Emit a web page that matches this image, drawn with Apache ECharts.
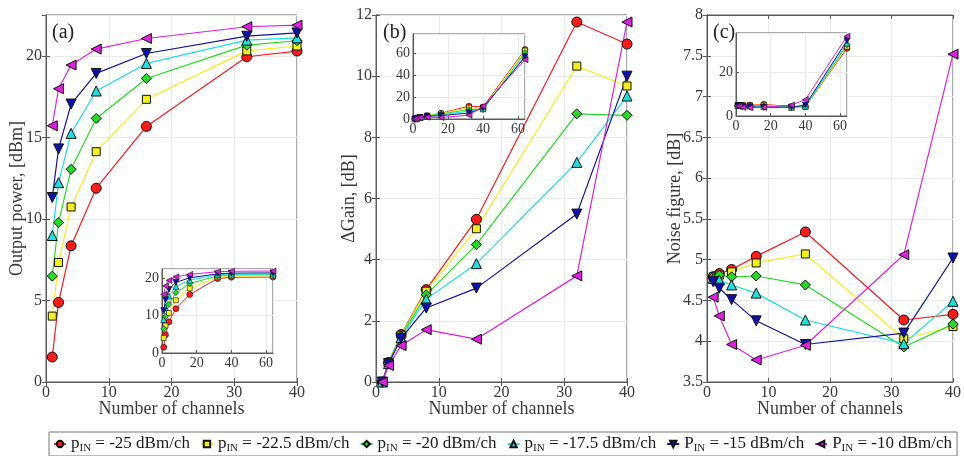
<!DOCTYPE html>
<html>
<head>
<meta charset="utf-8">
<script src="https://cdn.jsdelivr.net/npm/echarts@6/dist/echarts.min.js"></script>
<style>
  html, body { margin: 0; padding: 0; background: #fff; }
  #chart { width: 964px; height: 456px; }
</style>
</head>
<body>
<div id="chart"></div>
<script>
// channels (the last one, 64, only shows in the insets)
const channels = [1, 2, 4, 8, 16, 32, 40, 64];
const inputPower = ['-25', '-22.5', '-20', '-17.5', '-15', '-10'];
const legendPrefix = ['p', 'p', 'p', 'p', 'P', 'P'];

// (a) output power [dBm], one row per input power
const outputPower = [
  [1.53, 4.88, 8.35, 11.88, 15.67, 19.94, 20.29, 20.35],
  [4.04, 7.33, 10.73, 14.12, 17.33, 20.3, 20.6, 20.65],
  [6.49, 9.78, 13.04, 16.16, 18.61, 20.65, 20.92, 20.95],
  [8.98, 12.22, 15.24, 17.84, 19.53, 20.96, 21.1, 21.15],
  [11.31, 14.29, 17.04, 18.92, 20.14, 21.2, 21.4, 21.45],
  [15.71, 17.98, 19.43, 20.41, 21.06, 21.78, 21.88, 21.95]
];

// (b) delta gain [dB]
const deltaGain = [
  [0, 0.64, 1.55, 3.02, 5.32, 11.77, 11.05, 63.7],
  [0, 0.64, 1.53, 2.97, 5.01, 10.33, 9.68, 62.8],
  [0, 0.62, 1.5, 2.85, 4.49, 8.77, 8.72, 61.0],
  [0, 0.6, 1.45, 2.71, 3.87, 7.18, 9.35, 58.4],
  [0, 0.6, 1.43, 2.42, 3.07, 5.49, 10.0, 57.0],
  [0, 0.54, 1.19, 1.71, 1.4, 3.47, 11.77, 54.4]
];

// (c) noise figure [dB]
const noiseFigure = [
  [4.79, 4.83, 4.88, 5.04, 5.34, 4.26, 4.33, 31.0],
  [4.79, 4.81, 4.85, 4.96, 5.07, 4.03, 4.18, 31.8],
  [4.79, 4.81, 4.79, 4.8, 4.69, 3.93, 4.21, 32.6],
  [4.77, 4.75, 4.69, 4.59, 4.26, 3.97, 4.49, 33.4],
  [4.73, 4.65, 4.51, 4.25, 3.96, 4.1, 5.02, 34.5],
  [4.54, 4.31, 3.96, 3.77, 3.95, 5.06, 7.52, 36.5]
];

const FONT = '"Liberation Serif", serif';
const colors = ['#ff1a1a', '#f2f21a', '#22dd22', '#1ae0e0', '#1010b0', '#e020e0'];
const symbols = ['circle', 'rect', 'diamond', 'triangle', 'triangle', 'triangle'];
const rotations = [0, 0, 0, 0, 180, 90];

const metrics = [outputPower, deltaGain, noiseFigure];
const yNames = ['Output power, [dBm]', '\u0394Gain, [dB]', 'Noise figure, [dB]'];
const yMain = [[0, 22.5, 5], [0, 12, 2], [3.5, 8, 0.5]];
const yInset = [[0, 22.5, 10], [0, 78, 20], [0, 38, 20]];
const yNameGap = [20, 18, 23];
const letters = ['(a)', '(b)', '(c)'];

const mainGrids = [
  { left: 46, top: 15, width: 251, height: 367 },
  { left: 376, top: 15, width: 251, height: 367 },
  { left: 707, top: 15, width: 251, height: 367 }
];
const insetGrids = [
  { left: 162, top: 269, width: 111, height: 84 },
  { left: 413, top: 34, width: 112, height: 85 },
  { left: 736, top: 33, width: 111, height: 83 }
];

const boxColor = '#5a5a5a';
const textColor = '#3a3a3a';
const gridLine = { show: true, lineStyle: { color: '#ebebeb', width: 1 } };

let grid = [];
let xAxis = [];
let yAxis = [];
let series = [];

mainGrids.forEach(g => grid.push(Object.assign({ show: true, borderColor: boxColor, borderWidth: 1, z: 0 }, g)));
insetGrids.forEach(g => grid.push(Object.assign({ show: true, borderColor: boxColor, borderWidth: 1, backgroundColor: '#fff', z: 3 }, g)));

// main axes
for (let m = 0; m < 3; m++) {
  xAxis.push({
    gridIndex: m, type: 'value', min: 0, max: 40, interval: 10,
    name: 'Number of channels', nameLocation: 'middle', nameGap: 18, nameMoveOverlap: false,
    nameTextStyle: { fontFamily: FONT, fontSize: 18, color: textColor },
    axisLine: { lineStyle: { color: boxColor } },
    axisTick: { inside: true, length: 4, lineStyle: { color: boxColor } },
    axisLabel: { fontFamily: FONT, fontSize: 16, color: textColor, margin: 3 },
    splitLine: gridLine
  });
  yAxis.push({
    gridIndex: m, type: 'value', min: yMain[m][0], max: yMain[m][1], interval: yMain[m][2],
    name: yNames[m], nameLocation: 'middle', nameGap: yNameGap[m], nameMoveOverlap: false,
    nameTextStyle: { fontFamily: FONT, fontSize: 18, color: textColor },
    axisLine: { lineStyle: { color: boxColor } },
    axisTick: { inside: true, length: 4, lineStyle: { color: boxColor } },
    axisLabel: { fontFamily: FONT, fontSize: 16, color: textColor, margin: 4, showMaxLabel: m !== 0 },
    splitLine: gridLine
  });
}
// inset axes
for (let m = 0; m < 3; m++) {
  xAxis.push({
    gridIndex: m + 3, type: 'value', min: 0, max: 64, interval: 20, z: 4,
    axisLine: { lineStyle: { color: boxColor } },
    axisTick: { inside: true, length: 3, lineStyle: { color: boxColor } },
    axisLabel: { fontFamily: FONT, fontSize: 14, color: textColor, margin: 3, showMaxLabel: false },
    splitLine: gridLine
  });
  yAxis.push({
    gridIndex: m + 3, type: 'value', min: yInset[m][0], max: yInset[m][1], interval: yInset[m][2], z: 4,
    axisLine: { lineStyle: { color: boxColor } },
    axisTick: { inside: true, length: 3, lineStyle: { color: boxColor } },
    axisLabel: { fontFamily: FONT, fontSize: 14, color: textColor, margin: 3, showMaxLabel: false },
    splitLine: gridLine
  });
}
// tick marks on top and right of main boxes
for (let m = 0; m < 3; m++) {
  xAxis.push({
    gridIndex: m, type: 'value', position: 'top', min: 0, max: 40, interval: 10,
    axisLine: { lineStyle: { color: boxColor } },
    axisTick: { inside: true, length: 4, lineStyle: { color: boxColor } },
    axisLabel: { show: false }, splitLine: { show: false }
  });
  yAxis.push({
    gridIndex: m, type: 'value', position: 'right', min: yMain[m][0], max: yMain[m][1], interval: yMain[m][2],
    axisLine: { lineStyle: { color: boxColor } },
    axisTick: { inside: true, length: 4, lineStyle: { color: boxColor } },
    axisLabel: { show: false }, splitLine: { show: false }
  });
}

for (let m = 0; m < 3; m++) {
  for (let s = 0; s < 6; s++) {
    const vals = metrics[m][s];
    const base = {
      name: inputPower[s], type: 'line',
      symbol: symbols[s], symbolRotate: rotations[s],
      color: colors[s],
      lineStyle: { color: colors[s], width: 1.2 },
      itemStyle: { color: colors[s], borderColor: '#111', borderWidth: 1 },
      emphasis: { disabled: true },
      animation: false
    };
    series.push(Object.assign({}, base, {
      xAxisIndex: m, yAxisIndex: m, symbolSize: s === 1 ? 8 : 10, z: 2,
      data: channels.slice(0, 7).map((c, i) => [c, vals[i]])
    }));
    series.push(Object.assign({}, base, {
      xAxisIndex: m + 3, yAxisIndex: m + 3, symbolSize: s === 1 ? 5 : 6, z: 6,
      lineStyle: { color: colors[s], width: 1 },
      itemStyle: { color: colors[s], borderColor: '#111', borderWidth: 0.6 },
      data: channels.map((c, i) => [c, vals[i]])
    }));
  }
}

const option = {
  backgroundColor: '#fff',
  animation: false,
  grid: grid,
  xAxis: xAxis,
  yAxis: yAxis,
  legend: {
    data: inputPower,
    left: 49, top: 432,
    width: 906,
    padding: [2, 5, 2, 4],
    itemGap: 10,
    itemWidth: 12, itemHeight: 8,
    borderColor: '#777', borderWidth: 1,
    selectedMode: false,
    formatter: name => {
      const i = inputPower.indexOf(name);
      return '{p|' + legendPrefix[i] + '}{sub|IN}{t| = ' + name + ' dBm/ch}';
    },
    textStyle: {
      fontFamily: FONT, fontSize: 17, color: '#1a1a1a',
      rich: {
        p: { fontFamily: FONT, fontSize: 17, color: '#1a1a1a', lineHeight: 20 },
        sub: { fontFamily: FONT, fontSize: 11, color: '#1a1a1a', lineHeight: 20, padding: [9, 0, 0, 0] },
        t: { fontFamily: FONT, fontSize: 17, color: '#1a1a1a', lineHeight: 20 }
      }
    }
  },
  graphic: letters.map((t, i) => ({
    type: 'text', left: [52, 383, 713][i], top: 23, z: 20,
    style: { text: t, font: '20px "Liberation Serif", serif', fill: '#222' }
  })),
  series: series
};

const chart = echarts.init(document.getElementById('chart'), null, { renderer: 'canvas' });
chart.setOption(option);
</script>
</body>
</html>
